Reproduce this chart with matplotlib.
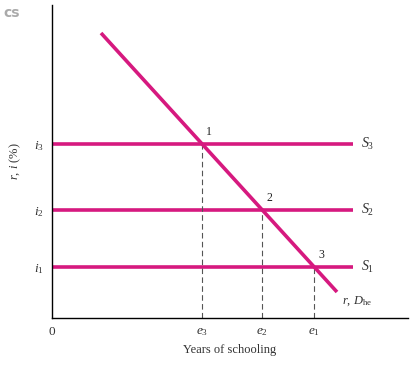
import matplotlib
matplotlib.use("Agg")
import matplotlib.pyplot as plt
import numpy as np

plt.rcParams['font.family'] = ['Liberation Serif', 'DejaVu Serif']
plt.rcParams['mathtext.fontset'] = 'custom'
plt.rcParams['mathtext.rm'] = 'Liberation Serif'
plt.rcParams['mathtext.it'] = 'Liberation Serif:italic'

# Interest rate levels (data units)
rate_levels = [51, 108, 174]          # i1, i2, i3
rate_labels = [r'$i_1$', r'$i_2$', r'$i_3$']
supply_labels = [r'$S_1$', r'$S_2$', r'$S_3$']
point_labels = ['3', '2', '1']
school_labels = [r'$e_1$', r'$e_2$', r'$e_3$']
# Demand curve endpoints
demand_x = [49, 285]
demand_y = [285, 26]
supply_x_end = 301

color = '#d6197f'

fig = plt.figure(figsize=(4.19, 3.71), dpi=100)
ax = fig.add_axes([52/419, (371-318)/371, 356/419, 313/371])
ax.set_xlim(0, 356)
ax.set_ylim(0, 313)

slope = (demand_y[1] - demand_y[0]) / (demand_x[1] - demand_x[0])
for lvl, sl, pl in zip(rate_levels, supply_labels, point_labels):
    ax.plot([0, supply_x_end], [lvl, lvl], color=color, lw=2.6, solid_capstyle='butt')
    ax.text(supply_x_end + 8, lvl, sl, va='center', ha='left', fontsize=10, color='#333333')
    xe = demand_x[0] + (lvl - demand_y[0]) / slope
    ax.plot([xe, xe], [0, lvl], color='#555555', lw=0.8, ls=(0, (5, 3)))
    ax.text(xe + 4, lvl + 6, pl, ha='left', va='bottom', fontsize=8.5, color='#222222')

ax.plot(demand_x, demand_y, color=color, lw=2.6, solid_capstyle='butt')
ax.text(demand_x[1] + 5, demand_y[1] - 2, r'$r$, $D_{\mathrm{he}}$', ha='left', va='top',
        fontsize=9, color='#333333')

xs = [demand_x[0] + (lvl - demand_y[0]) / slope for lvl in rate_levels]
ax.set_xticks([0] + xs)
ax.set_xticklabels(['0'] + school_labels, fontsize=9.5, color='#333333')
ax.set_yticks(rate_levels)
ax.set_yticklabels(rate_labels, fontsize=9.5, color='#333333')
ax.tick_params(length=0, pad=6)
ax.set_xlabel('Years of schooling', fontsize=9, color='#333333', labelpad=4)
ax.set_ylabel(r'$r$, $i$ (%)', fontsize=9, color='#333333', labelpad=8)
for s in ['top', 'right']:
    ax.spines[s].set_visible(False)
for s in ['left', 'bottom']:
    ax.spines[s].set_linewidth(1.0)

fig.text(3/419, 1 - 13/371, 'cs', fontsize=10, fontweight='bold', color='#aaaaaa',
         family='DejaVu Sans', va='center', ha='left')

fig.savefig('out.png', dpi=100)
